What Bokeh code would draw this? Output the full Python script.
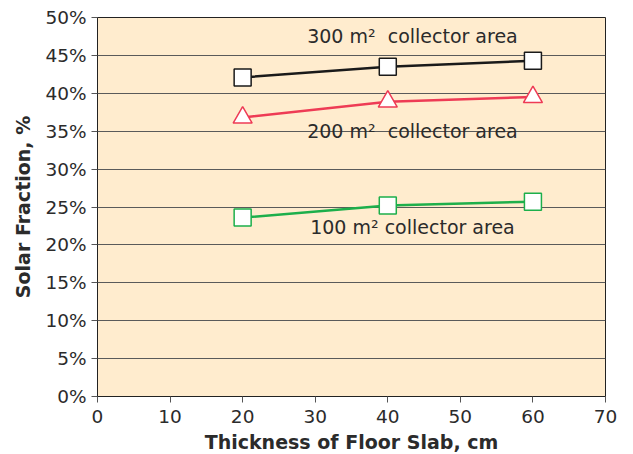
from bokeh.plotting import figure
from bokeh.models import NumeralTickFormatter, FixedTicker, Range1d, Label
from bokeh.embed import file_html
from bokeh.resources import INLINE

thickness = [20, 40, 60]
sf_300 = [0.421, 0.435, 0.443]
sf_200 = [0.368, 0.389, 0.395]
sf_100 = [0.236, 0.252, 0.257]
x_ticks = [0, 10, 20, 30, 40, 50, 60, 70]
y_ticks = [0.0, 0.05, 0.10, 0.15, 0.20, 0.25, 0.30, 0.35, 0.40, 0.45, 0.50]

FONT = "DejaVu Sans"
TXT = "#2b2b2b"

p = figure(width=625, height=446, output_backend="svg", toolbar_location=None,
           x_range=Range1d(0, 70), y_range=Range1d(0, 0.5),
           frame_width=508, frame_height=379,
           min_border_left=97, min_border_top=17, min_border_right=20, min_border_bottom=10)
p.background_fill_color = "#FFECCE"
p.border_fill_color = "white"
p.outline_line_color = "#222222"
p.outline_line_width = 1

p.xgrid.visible = False
p.ygrid.grid_line_color = "#5a5a5a"
p.ygrid.grid_line_width = 1
p.ygrid.ticker = FixedTicker(ticks=y_ticks)

p.xaxis.ticker = FixedTicker(ticks=x_ticks)
p.yaxis.ticker = FixedTicker(ticks=y_ticks)
p.yaxis.formatter = NumeralTickFormatter(format="0%")
for ax in (p.xaxis, p.yaxis):
    ax.major_label_text_font = FONT
    ax.major_label_text_font_size = "18.5px"
    ax.major_label_text_color = TXT
    ax.axis_label_text_font = FONT
    ax.axis_label_text_font_style = "bold"
    ax.axis_label_text_font_size = "19px"
    ax.axis_label_text_color = TXT
    ax.axis_line_color = "#222222"
    ax.major_tick_line_color = "#555555"
    ax.major_tick_out = 6
    ax.major_tick_in = 0
    ax.minor_tick_line_color = None
p.xaxis.axis_label = "Thickness of Floor Slab, cm"
p.yaxis.axis_label = "Solar Fraction, %"
p.xaxis.major_label_standoff = 7
p.yaxis.major_label_standoff = 5
p.xaxis.axis_label_standoff = 5
p.yaxis.axis_label_standoff = 8

p.line(thickness, sf_300, line_color="#1a1a1a", line_width=2.5)
p.scatter(thickness, sf_300, marker="square", size=17, fill_color="white",
          line_color="#1a1a1a", line_width=1.5)
p.line(thickness, sf_200, line_color="#EE3B55", line_width=2.5)
p.scatter(thickness, sf_200, marker="triangle", size=19, fill_color="white",
          line_color="#EE3B55", line_width=1.5)
p.line(thickness, sf_100, line_color="#1DAF4B", line_width=2.5)
p.scatter(thickness, sf_100, marker="square", size=17, fill_color="white",
          line_color="#1DAF4B", line_width=1.5)

for txt, xx, yy in [("300 m\u00b2\u00a0 collector area", 43.4, 0.476),
                    ("200 m\u00b2\u00a0 collector area", 43.4, 0.350),
                    ("100 m\u00b2 collector area", 43.4, 0.224)]:
    p.add_layout(Label(x=xx, y=yy, text=txt, text_align="center", text_baseline="middle",
                       text_font=FONT, text_font_size="19px", text_color=TXT))

open("out.html", "w").write(file_html(p, INLINE))
